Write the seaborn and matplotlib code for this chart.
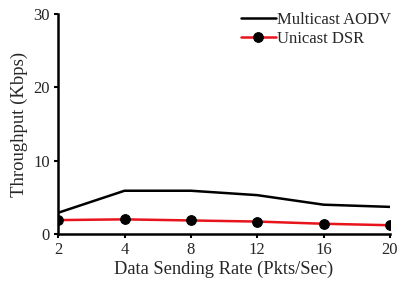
import seaborn as sns
import numpy as np
import pandas as pd
import matplotlib.pyplot as plt

# Data
rates = ['2', '4', '8', '12', '16', '20']
multicast_aodv = [2.9, 5.9, 5.9, 5.3, 4.0, 3.7]
unicast_dsr = [1.9, 2.0, 1.85, 1.7, 1.4, 1.2]

sns.set_style('ticks')
plt.rcParams['font.family'] = ['Liberation Serif', 'DejaVu Serif']

df = pd.DataFrame({'rate': rates, 'aodv': multicast_aodv, 'dsr': unicast_dsr})

fig, ax = plt.subplots(figsize=(4.04, 2.9), dpi=100)
fig.subplots_adjust(left=0.144, right=0.965, bottom=0.193, top=0.952)

sns.lineplot(ax=ax, data=df, x='rate', y='aodv', sort=False, color='black',
             linewidth=1.8, label='Multicast AODV')
sns.lineplot(ax=ax, data=df, x='rate', y='dsr', sort=False, color='#e8141c',
             linewidth=1.8, marker='o', markersize=7, markerfacecolor='black',
             markeredgecolor='black', label='Unicast DSR')

ax.set_xlim(0, len(rates) - 1)
ax.set_ylim(0, 30)
ax.set_yticks([0, 10, 20, 30])
ax.set_xlabel('Data Sending Rate (Pkts/Sec)', fontsize=13.3, labelpad=2)
ax.set_ylabel('Throughput (Kbps)', fontsize=13.5, labelpad=4)
ax.tick_params(labelsize=12, width=1.5, length=3, color='black', pad=3)
for s in ['left', 'bottom']:
    ax.spines[s].set_linewidth(1.8)
    ax.spines[s].set_color('black')
sns.despine(ax=ax)

ax.legend(loc='upper right', frameon=False, fontsize=12, handlelength=2.1,
          handletextpad=0.1, labelspacing=0.2, borderaxespad=0.0,
          bbox_to_anchor=(1.025, 1.04))

fig.savefig('out.png', dpi=100)
